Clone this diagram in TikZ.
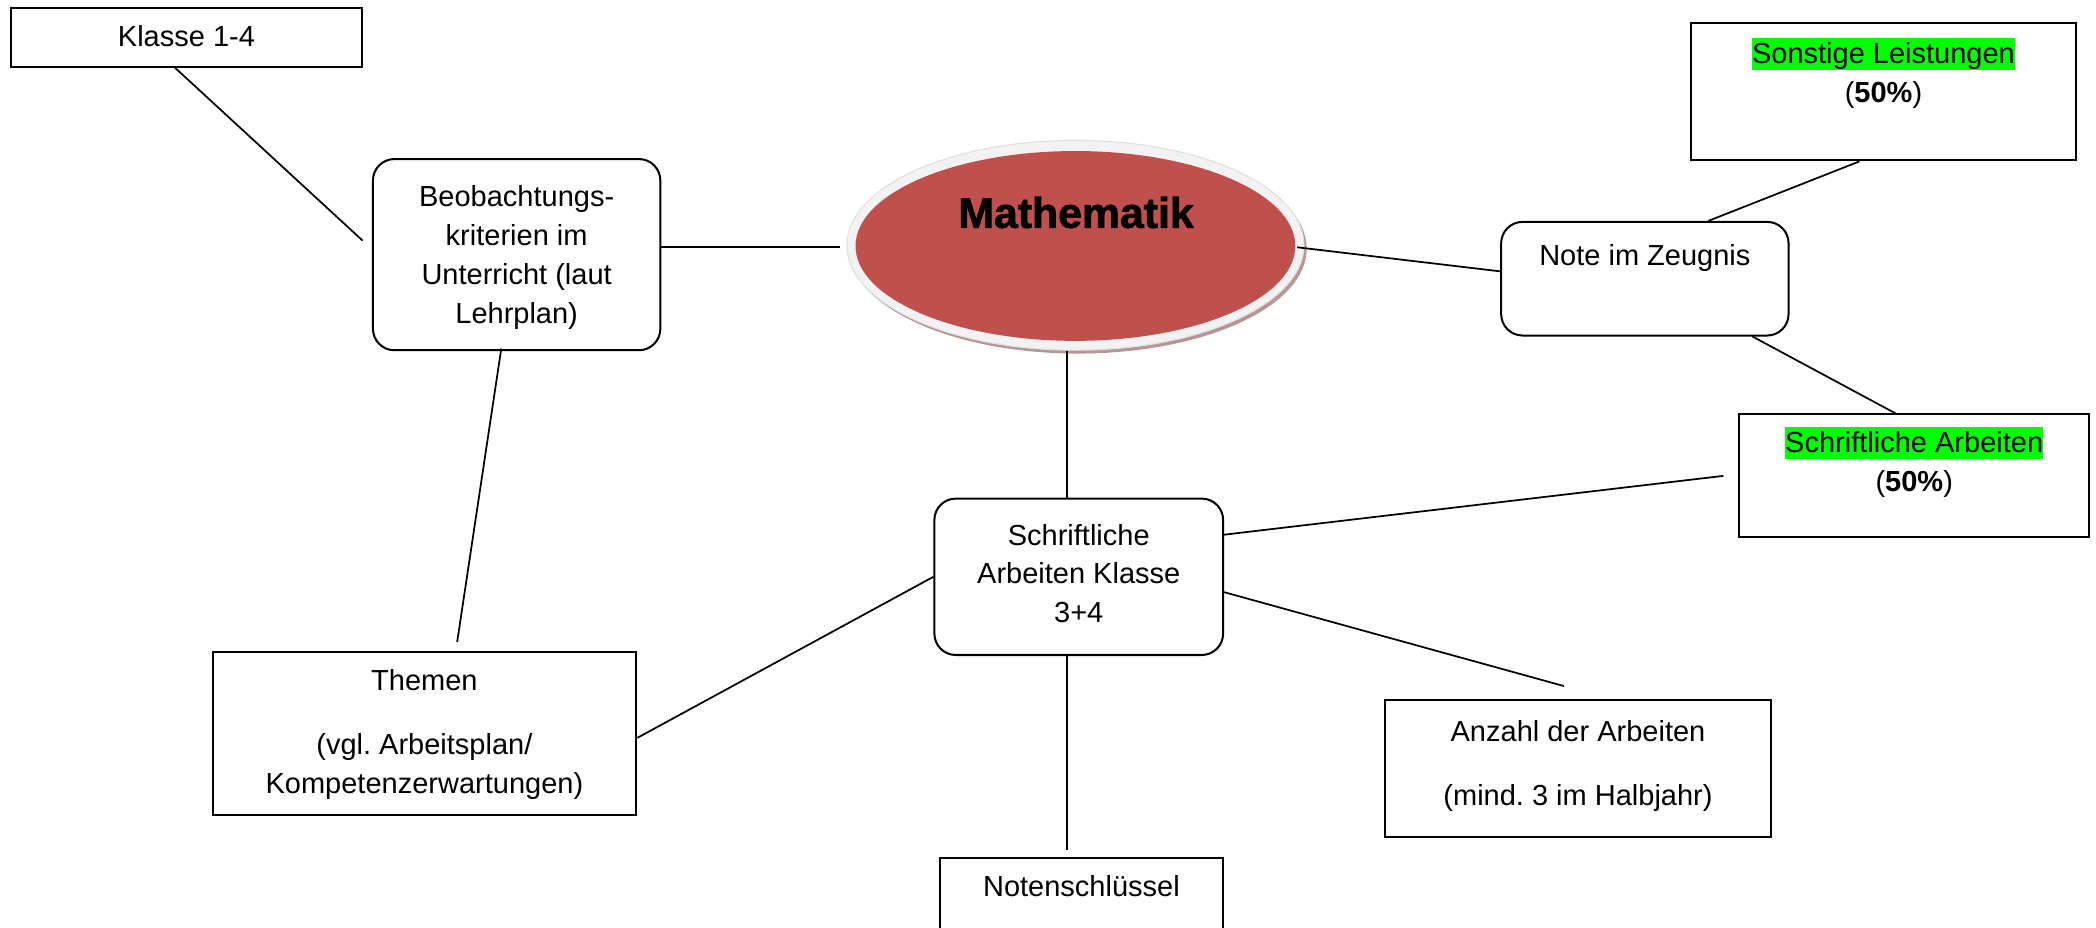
\documentclass[tikz,border=0pt]{standalone}
\usepackage{fontspec}
\setmainfont{Liberation Sans}
\newfontfamily\titelfont[FakeBold=1.6]{Liberation Sans Bold}
\usepackage{tikz}
\usetikzlibrary{shapes.geometric}

\definecolor{matherot}{HTML}{C0504D}
\definecolor{hlgreen}{HTML}{00FF00}
\definecolor{ringgrau}{HTML}{F2F2F2}
\definecolor{schatten}{HTML}{B89494}

\frenchspacing
\newcommand{\hl}[1]{{\setlength{\fboxsep}{0pt}\colorbox{hlgreen}{\rule[-2.3pt]{0pt}{12.1pt}#1}}}
\newcommand{\boxtext}[4]{\parbox[c][#2][t]{#1}{\centering\vspace*{#3}\strut #4\par}}

\begin{document}
\begin{tikzpicture}[x=0.5pt,y=-0.5pt,
    box/.style={draw, rectangle, line width=0.75pt, inner sep=0pt, font=\fontsize{10.85}{14.5}\selectfont},
    rbox/.style={box, rounded corners=8pt},
    oval/.style={ellipse, inner sep=0pt, minimum width=171pt, minimum height=78.5pt},
    link/.style={line width=0.65pt}]
    \useasboundingbox (0,0) rectangle (1568,694);

    % Nodes
    \node[oval, fill=schatten] (mathesch) at (806.5,186) {};
    \node[oval, fill=ringgrau, draw=gray!25, line width=0.4pt] (mathe) at (804.5,183.5) {};
    \node[ellipse, inner sep=0pt, fill=matherot, minimum width=164.5pt, minimum height=71pt] (mathekern) at (804.5,184) {};
    \node[font=\fontsize{16}{18}\selectfont\titelfont] (titel) at (805,159) {Mathematik};

    \node[box] (klasse) at (139.5,28) {\boxtext{131.5pt}{22pt}{4.25pt}{Klasse 1-4}};
    \node[rbox] (beob) at (386.5,190.5) {\boxtext{107.5pt}{71.5pt}{7.75pt}{Beobachtungs-\\kriterien im\\Unterricht (laut\\Lehrplan)}};
    \node[rbox] (note) at (1230.5,208.5) {\boxtext{107.5pt}{42.5pt}{6.25pt}{Note im Zeugnis}};
    \node[box] (sonst) at (1409,68.5) {\boxtext{144pt}{51.5pt}{5.25pt}{\hl{Sonstige Leistungen}\\(\textbf{50\%})}};
    \node[box] (sa) at (1432,356) {\boxtext{131pt}{46pt}{4.25pt}{\hl{Schriftliche Arbeiten}\\(\textbf{50\%})}};
    \node[rbox] (sak) at (807,431.5) {\boxtext{108pt}{58.5pt}{7.25pt}{Schriftliche\\Arbeiten Klasse\\3+4}};
    \node[box] (themen) at (317.5,549) {\boxtext{158.5pt}{61pt}{4.25pt}{Themen\\[9.5pt](vgl. Arbeitsplan/\\Kompetenzerwartungen)}};
    \node[box] (anzahl) at (1180.5,575) {\boxtext{144.5pt}{51pt}{5.25pt}{Anzahl der Arbeiten\\[9.5pt](mind. 3 im Halbjahr)}};
    \node[box] (noten) at (809,682) {\boxtext{106pt}{40pt}{4.25pt}{Notenschlüssel}};

    % Lines
    \draw[link] ([xshift=-4.25pt]klasse.south) -- ([xshift=-3.5pt,yshift=5.25pt]beob.west);
    \draw[link] ([yshift=2.75pt]beob.east) -- ([xshift=-2.5pt,yshift=-0.75pt]mathe.west);
    \draw[link] ([xshift=-2.75pt,yshift=-0.75pt]mathe.east) -- ([yshift=2.75pt]note.west);
    \draw[link] ([xshift=-3.25pt]mathe.south) -- ([xshift=-4.5pt]sak.north);
    \draw[link] ([xshift=-9pt]sonst.south) -- ([xshift=23.75pt]note.north);
    \draw[link] ([xshift=40.25pt]note.south) -- ([xshift=-7pt]sa.north);
    \draw[link] ([yshift=15.75pt]sak.east) -- ([xshift=-5.5pt]sa.west);
    \draw[link] ([yshift=-5.75pt]sak.east) -- ([xshift=-5.25pt,yshift=5pt]anzahl.north);
    \draw[link] (sak.west) -- ([yshift=-1.5pt]themen.east);
    \draw[link] ([xshift=-4.5pt]sak.south) -- ([xshift=-5.5pt,yshift=2.5pt]noten.north);
    \draw[link] ([xshift=-5.75pt,yshift=1pt]beob.south) -- ([xshift=12.25pt,yshift=3.5pt]themen.north);
\end{tikzpicture}
\end{document}
